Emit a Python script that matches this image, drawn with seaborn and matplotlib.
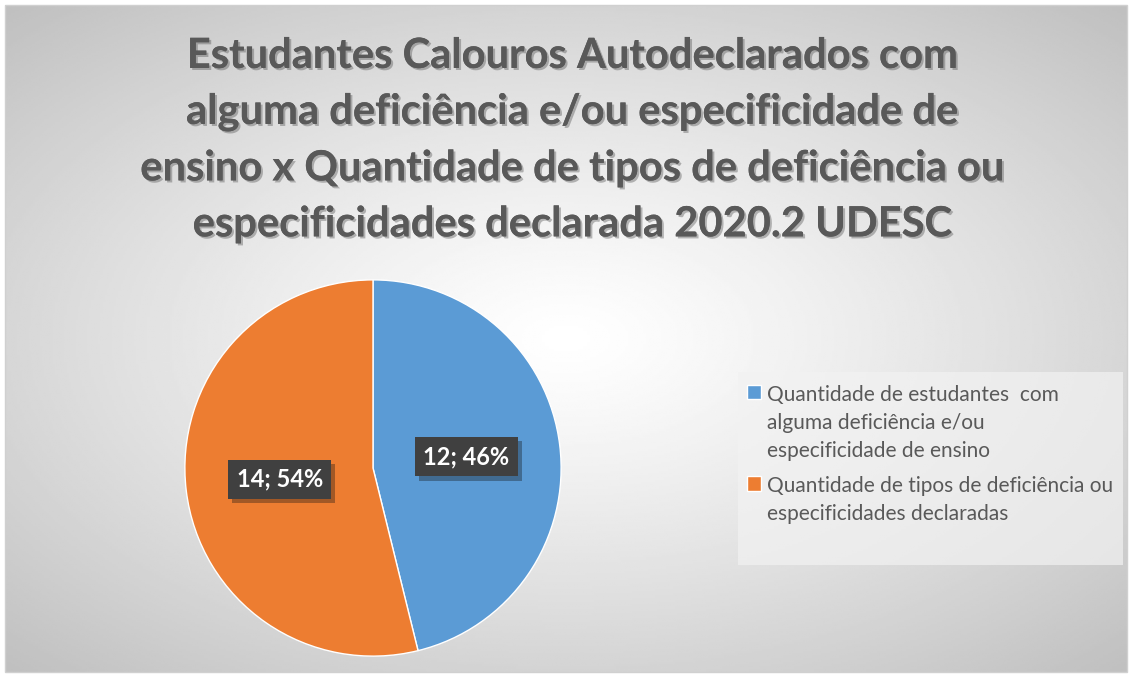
import numpy as np
import matplotlib.pyplot as plt
import matplotlib.patheffects as pe
from matplotlib.patches import Rectangle
import seaborn as sns

# data
labels = ["Quantidade de estudantes  com\nalguma deficiência e/ou\nespecificidade de ensino",
          "Quantidade de tipos de deficiência ou\nespecificidades declaradas"]
values = [12, 14]
colors = ["#5b9bd5", "#ed7d31"]
title = ("Estudantes Calouros Autodeclarados com\n"
         "alguma deficiência e/ou especificidade de\n"
         "ensino x Quantidade de tipos de deficiência ou\n"
         "especificidades declarada 2020.2 UDESC")

sns.set_theme(style="white")
plt.rcParams['font.family'] = ['Lato', 'DejaVu Sans']

fig = plt.figure(figsize=(11.32, 6.77), dpi=100)

# radial gradient background inside the chart border
bg = fig.add_axes([5/1132, 5/677, 1122/1132, 667/677])
yy, xx = np.mgrid[-1:1:300j, -1:1:500j]
r = np.sqrt((xx * 0.95) ** 2 + (yy * 1.0) ** 2) / np.sqrt(0.95**2 + 1)
shade = 1.0 - 0.25 * np.clip(r, 0, 1) ** 1.2
bg.imshow(shade, cmap='gray', vmin=0, vmax=1, aspect='auto', extent=[0, 1, 0, 1])
bg.set_axis_off()
fig.add_artist(Rectangle((5/1132, 5/677), 1122/1132, 667/677, transform=fig.transFigure,
                         fill=False, edgecolor='#d0d0d0', lw=1))

fig.text(0.505, 0.793, title, ha='center', va='center', fontsize=30, fontweight='bold',
         color='#595959', linespacing=1.58,
         path_effects=[pe.withSimplePatchShadow(offset=(1.5, -1.5), shadow_rgbFace='#555555', alpha=0.4),
                       pe.Normal()])

ax = fig.add_axes([183/1132, 19/677, 380/1132, 380/677])
wedges, texts, autotexts = ax.pie(values, colors=colors, startangle=90, counterclock=False,
                                  radius=1, pctdistance=0.5,
                                  autopct=lambda p: f"{round(p * sum(values) / 100)}; {p:.0f}%",
                                  wedgeprops=dict(linewidth=1, edgecolor='white'))
for t in autotexts:
    t.set_color('white')
    t.set_fontsize(17)
    t.set_fontweight('bold')
    t.set_bbox(dict(boxstyle='square,pad=0.35', facecolor='#404040', edgecolor='none'))
    t.get_bbox_patch().set_path_effects([pe.SimplePatchShadow(offset=(3, -3), alpha=0.35), pe.Normal()])
ax.set_xlim(-1.01, 1.01)
ax.set_ylim(-1.01, 1.01)
ax.set_aspect('equal')

# legend box
fig.add_artist(Rectangle((738/1132, (677-565)/677), 385/1132, 193/677, transform=fig.transFigure,
                         facecolor='#f2f2f2', edgecolor='none', alpha=0.7))
handles = [Rectangle((0, 0), 1, 1, facecolor=c) for c in colors]
leg = fig.legend(handles, labels, loc='upper left', bbox_to_anchor=(728/1132, (677-366)/677),
                 frameon=False, fontsize=15, handlelength=0.7, handleheight=0.7,
                 handletextpad=0.25, labelspacing=0.75, labelcolor='#595959')
for t in leg.get_texts():
    t.set_linespacing(1.5)
for col in leg._legend_handle_box.get_children():
    for row in col.get_children():
        row.align = 'top'

fig.savefig('out.png', dpi=100)
